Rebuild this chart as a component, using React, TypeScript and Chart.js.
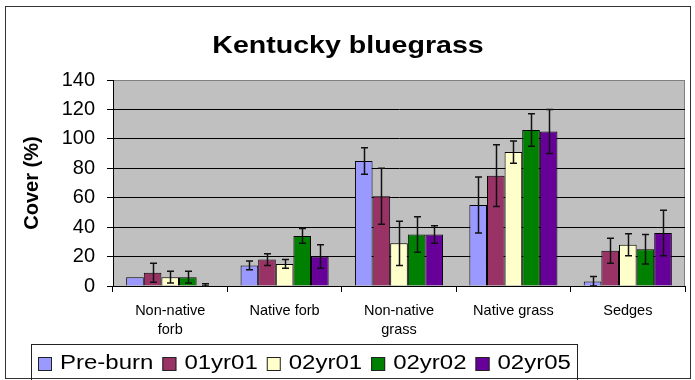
import React, { useEffect, useRef } from "react";
import { Chart, registerables } from "chart.js";

Chart.register(...registerables);

const titleText = "Kentucky bluegrass";
const yAxisTitle = "Cover (%)";
const categories: (string | string[])[] = [
  ["Non-native", "forb"],
  "Native forb",
  ["Non-native", "grass"],
  "Native grass",
  "Sedges",
];
const seriesNames = ["Pre-burn", "01yr01", "02yr01", "02yr02", "02yr05"];
const seriesColors = ["#9999FF", "#993366", "#FFFFCC", "#008000", "#660099"];

const preBurn = [6, 14, 85, 55, 3];
const yr0101 = [9, 18, 61, 75, 24];
const yr0201 = [6, 15, 29, 91, 28];
const yr0202 = [6, 34, 35, 106, 25];
const yr0205 = [0.3, 20, 35, 105, 36];

const preBurnErr = [0, 3, 9, 19, 3.5];
const yr0101Err = [6.5, 4, 19, 21, 8.5];
const yr0201Err = [4, 3, 15, 7.5, 7.5];
const yr0202Err = [4, 5, 12, 11, 10];
const yr0205Err = [1.3, 8, 6, 15, 15.5];

const seriesValues = [preBurn, yr0101, yr0201, yr0202, yr0205];
const seriesErrors = [preBurnErr, yr0101Err, yr0201Err, yr0202Err, yr0205Err];

const yTicks = [0, 20, 40, 60, 80, 100, 120, 140];

const FONT = "'Liberation Sans', Arial, sans-serif";

const framePlugin = {
  id: "frame",
  beforeDraw(chart: any) {
    const { ctx, chartArea } = chart;
    ctx.save();
    ctx.fillStyle = "#ffffff";
    ctx.fillRect(0, 0, chart.width, chart.height);
    ctx.strokeStyle = "#333333";
    ctx.lineWidth = 1;
    ctx.strokeRect(5.5, 6.5, 685, 372);
    ctx.fillStyle = "#C0C0C0";
    ctx.fillRect(chartArea.left, chartArea.top, chartArea.right - chartArea.left, chartArea.bottom - chartArea.top);
    ctx.strokeStyle = "#808080";
    ctx.beginPath();
    ctx.moveTo(chartArea.left, chartArea.top + 0.5);
    ctx.lineTo(chartArea.right - 0.5, chartArea.top + 0.5);
    ctx.lineTo(chartArea.right - 0.5, chartArea.bottom);
    ctx.stroke();
    // title
    ctx.fillStyle = "#000";
    ctx.font = `bold 24px ${FONT}`;
    ctx.textAlign = "center";
    ctx.textBaseline = "middle";
    ctx.translate(348, 46);
    ctx.scale(1.19, 1);
    ctx.fillText(titleText, 0, 0);
    ctx.restore();
  },
  afterDatasetsDraw(chart: any) {
    const { ctx } = chart;
    const yScale = chart.scales.y;
    ctx.save();
    ctx.strokeStyle = "#111";
    ctx.lineWidth = 1.5;
    chart.data.datasets.forEach((ds: any, di: number) => {
      const meta = chart.getDatasetMeta(di);
      const errs = seriesErrors[di];
      meta.data.forEach((el: any, i: number) => {
        const e = errs[i];
        if (!e) return;
        const v = ds.data[i];
        const yTop = yScale.getPixelForValue(v + e);
        const yBot = yScale.getPixelForValue(Math.max(0, v - e));
        const x = Math.round(el.x) + 0.5;
        ctx.beginPath();
        ctx.moveTo(x, yTop);
        ctx.lineTo(x, yBot);
        ctx.moveTo(x - 3.5, yTop);
        ctx.lineTo(x + 3.5, yTop);
        ctx.moveTo(x - 3.5, yBot);
        ctx.lineTo(x + 3.5, yBot);
        ctx.stroke();
      });
    });
    ctx.restore();
  },
  afterDraw(chart: any) {
    const { ctx } = chart;
    ctx.save();
    ctx.strokeStyle = "#222";
    ctx.lineWidth = 1;
    ctx.strokeRect(31.5, 344.5, 546, 40);
    ctx.font = `20px ${FONT}`;
    ctx.textBaseline = "middle";
    ctx.textAlign = "left";
    const sx = 1.2;
    let x = 38;
    chart.data.datasets.forEach((ds: any) => {
      ctx.fillStyle = ds.backgroundColor;
      ctx.fillRect(x, 357, 14, 14);
      ctx.strokeStyle = "#222";
      ctx.strokeRect(x + 0.5, 357.5, 13, 13);
      const tx = x + 22;
      ctx.fillStyle = "#000";
      ctx.save();
      ctx.translate(tx, 363);
      ctx.scale(sx, 1);
      ctx.fillText(ds.label, 0, 0);
      ctx.restore();
      x = tx + ctx.measureText(ds.label).width * sx + 9;
    });
    ctx.restore();
  },
};

export default function App() {
  const ref = useRef<HTMLCanvasElement>(null);
  useEffect(() => {
    if (!ref.current) return;
    const chart = new Chart(ref.current, {
      type: "bar",
      data: {
        labels: categories,
        datasets: seriesNames.map((name, i) => ({
          label: name,
          data: seriesValues[i],
          backgroundColor: seriesColors[i],
          borderColor: "#000",
          borderWidth: 1,
          categoryPercentage: 0.77,
          barPercentage: 1.0,
        })),
      },
      options: {
        animation: false,
        responsive: false,
        maintainAspectRatio: false,
        layout: { padding: { top: 80, left: 0, right: 10, bottom: 40 } },
        plugins: {
          legend: { display: false },
          title: { display: false },
          tooltip: { enabled: false },
        },
        scales: {
          x: {
            afterFit: (s: any) => {
              s.height = 54;
            },
            grid: {
              offset: true,
              drawOnChartArea: false,
              color: "#000",
              tickLength: 6,
            },
            border: { color: "#000", width: 1 },
            ticks: {
              color: "#000",
              font: { family: FONT, size: 14.5, lineHeight: 1.3 },
              padding: 10,
              maxRotation: 0,
              autoSkip: false,
            },
          },
          y: {
            min: 0,
            max: 140,
            afterFit: (s: any) => {
              s.width = 113;
            },
            afterBuildTicks: (s: any) => {
              s.ticks = yTicks.map((v) => ({ value: v }));
            },
            grid: {
              color: (c: any) => (c.tick && c.tick.value === 140 ? "#808080" : "#000"),
              tickColor: "#000",
              tickLength: 6,
            },
            border: { color: "#000", width: 1 },
            ticks: {
              color: "#000",
              font: { family: FONT, size: 20 },
              padding: 12,
            },
            title: {
              display: true,
              text: yAxisTitle,
              color: "#000",
              font: { family: FONT, size: 20, weight: "bold" },
              padding: { top: 20, bottom: 0 },
            },
          },
        },
      },
      plugins: [framePlugin],
    });
    return () => chart.destroy();
  }, []);
  return (
    <div style={{ position: "absolute", left: 0, top: 0, width: 695, height: 380 }}>
      <canvas ref={ref} width={695} height={380} style={{ width: 695, height: 380 }} />
    </div>
  );
}
